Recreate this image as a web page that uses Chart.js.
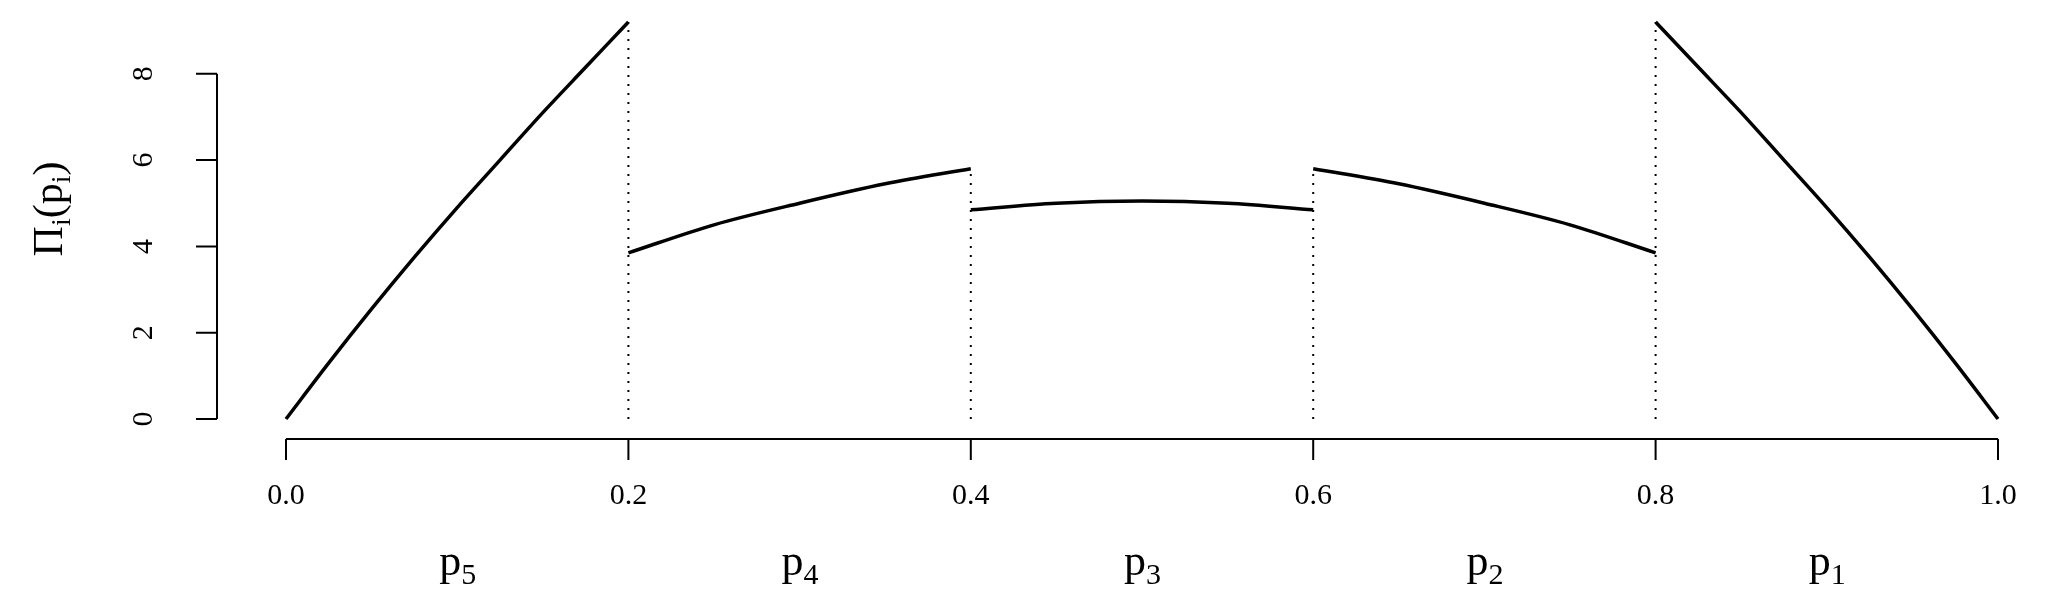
<!DOCTYPE html>
<html><head><meta charset="utf-8">
<script src="https://cdn.jsdelivr.net/npm/chart.js@4"></script>
<style>html,body{margin:0;padding:0;background:#fff}</style>
</head><body>
<canvas id="c" width="2047" height="604" style="width:2047px;height:604px"></canvas>
<script>
const seg1X = [0,0.025,0.05,0.075,0.1,0.125,0.15,0.175,0.2];
const seg1Y = [0,1.3,2.55,3.75,4.9,6.0,7.1,8.15,9.2];
const seg2X = [0.2,0.25,0.3,0.35,0.4];
const seg2Y = [3.85,4.5,5.0,5.45,5.8];
const seg3X = [0.4,0.45,0.5,0.55,0.6];
const seg3Y = [4.85,5.0,5.05,5.0,4.85];
const seg4X = [0.6,0.65,0.7,0.75,0.8];
const seg4Y = [5.8,5.45,5.0,4.5,3.85];
const seg5X = [0.8,0.825,0.85,0.875,0.9,0.925,0.95,0.975,1.0];
const seg5Y = [9.2,8.15,7.1,6.0,4.9,3.75,2.55,1.3,0];
const dividerX = [0.2,0.4,0.6,0.8];
const dividerTop = [9.2,5.8,5.8,9.2];
const xTicks = [0,0.2,0.4,0.6,0.8,1.0];
const xTickLabels = ["0.0","0.2","0.4","0.6","0.8","1.0"];
const yTicks = [0,2,4,6,8];
const regionLabels = ["5","4","3","2","1"];
const regionCenters = [0.1,0.3,0.5,0.7,0.9];

const zip=(xs,ys)=>xs.map((x,i)=>({x,y:ys[i]}));
const ds=[];
[[seg1X,seg1Y],[seg2X,seg2Y],[seg3X,seg3Y],[seg4X,seg4Y],[seg5X,seg5Y]].forEach(([a,b])=>{
  ds.push({data:zip(a,b),borderColor:'#000',borderWidth:3.5,pointRadius:0,tension:0.4,cubicInterpolationMode:'monotone',fill:false});
});
dividerX.forEach((x,i)=>{
  ds.push({data:[{x,y:0},{x,y:dividerTop[i]}],borderColor:'#000',borderWidth:2,borderDash:[2,7],pointRadius:0,fill:false});
});
const F='"Liberation Serif","DejaVu Serif",serif';
const axes={id:'axes',afterDraw(ch){
  const c=ch.ctx,xs=ch.scales.x,ys=ch.scales.y;
  c.save();c.strokeStyle='#000';c.fillStyle='#000';c.lineWidth=2;
  const ax=217, ay=439;
  c.beginPath();c.moveTo(ax,ys.getPixelForValue(0));c.lineTo(ax,ys.getPixelForValue(8));
  yTicks.forEach(v=>{const y=ys.getPixelForValue(v);c.moveTo(ax,y);c.lineTo(ax-21,y);});
  c.moveTo(xs.getPixelForValue(0),ay);c.lineTo(xs.getPixelForValue(1),ay);
  xTicks.forEach(v=>{const x=xs.getPixelForValue(v);c.moveTo(x,ay);c.lineTo(x,ay+21);});
  c.stroke();
  c.font='30px '+F;c.textAlign='center';c.textBaseline='middle';
  xTicks.forEach((v,i)=>c.fillText(xTickLabels[i],xs.getPixelForValue(v),496));
  yTicks.forEach(v=>{const y=ys.getPixelForValue(v);c.save();c.translate(144,y);c.rotate(-Math.PI/2);c.fillText(String(v),0,0);c.restore();});
  // region labels
  regionCenters.forEach((v,i)=>{
    const x=xs.getPixelForValue(v);
    c.font='44px '+F;c.textAlign='right';c.textBaseline='alphabetic';
    c.fillText('p',x+4,575);
    c.font='30px '+F;c.textAlign='left';
    c.fillText(regionLabels[i],x+4,584);
  });
  // y title
  c.save();c.translate(62,209);c.rotate(-Math.PI/2);
  const parts=[['Π',42,0],['i',28,8],['(p',42,0],['i',28,8],[')',42,0]];
  let w=0;parts.forEach(p=>{c.font=p[1]+'px '+F;w+=c.measureText(p[0]).width;});
  let xx=-w/2;c.textAlign='left';c.textBaseline='alphabetic';
  parts.forEach(p=>{c.font=p[1]+'px '+F;c.fillText(p[0],xx,p[2]);xx+=c.measureText(p[0]).width;});
  c.restore();
  c.restore();
}};
new Chart(document.getElementById('c'),{type:'line',data:{datasets:ds},
 options:{responsive:false,animation:false,clip:false,
  layout:{padding:{left:286,right:49,top:22,bottom:185}},
  plugins:{legend:{display:false},tooltip:{enabled:false}},
  scales:{x:{type:'linear',min:0,max:1,display:false},y:{min:0,max:9.2,display:false}}},
 plugins:[axes]});
</script></body></html>
